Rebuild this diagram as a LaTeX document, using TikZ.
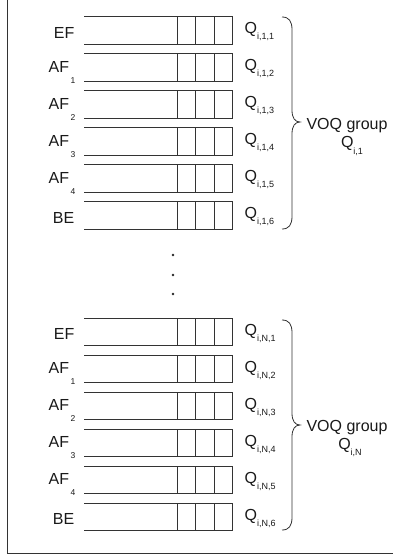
\documentclass[tikz,border=0pt]{standalone}
\usepackage{fontspec}
\setmainfont{Liberation Sans}
\newcommand\lsub[1]{\kern1.5pt\raisebox{-11pt}{\fontsize{8.5}{9}\selectfont #1}}
\newcommand\qsub[1]{\raisebox{-6pt}{\fontsize{9}{10}\selectfont #1}}
\begin{document}
\begin{tikzpicture}[x=1pt,y=-1pt,
  ln/.style={draw=black!80,line width=0.8pt},
  lab/.style={inner sep=0pt,font=\fontsize{16}{18}\selectfont,text=black!90},
  qlab/.style={inner sep=0pt,font=\fontsize{16}{18}\selectfont,text=black!90,anchor=base west},
  dotmark/.style={fill=black!85,draw=none}]
\useasboundingbox (0,0) rectangle (393,556);
\draw[ln] (7,0) -- (7,553) -- (393,553);
% queue rows
\foreach \g/\yo/\gn in {1/16.7/1, 2/318/N}{
  \foreach \r/\lab/\sb in {0/EF/0, 1/{AF\lsub{1}}/1, 2/{AF\lsub{2}}/1, 3/{AF\lsub{3}}/1, 4/{AF\lsub{4}}/1, 5/BE/0}{
    \pgfmathsetmacro\yt{\yo+37*\r}
    \pgfmathsetmacro\yb{\yt+27.5}
    \pgfmathtruncatemacro\qi{\r+1}
    \draw[ln] (84,\yt) -- (232.5,\yt) -- (232.5,\yb) -- (84,\yb);
    \draw[ln] (177,\yt) -- (177,\yb) (195.5,\yt) -- (195.5,\yb) (214,\yt) -- (214,\yb);
    \ifnum\sb=1
      \node[lab,anchor=base east] (L\g-\r) at (75.5,\yt+18.5) {\lab};
    \else
      \node[lab,anchor=base east] (L\g-\r) at (74.5,\yt+21.6) {\lab};
    \fi
    \node[qlab] (Q\g-\r) at (244.5,\yt+17) {Q\qsub{i,\gn,\qi}};
  }
}
% dots
\fill[dotmark] (173,255) circle (1.3) (173,275) circle (1.3) (173,294) circle (1.3);
% braces
\draw[ln] (282,17) .. controls (289,17) and (292,21) .. (292,30) -- (292,110)
  .. controls (292,118) and (295,122) .. (300,122)
  .. controls (295,122) and (292,126) .. (292,134) -- (292,216)
  .. controls (292,225) and (289,229) .. (282,229);
\draw[ln] (282,320) .. controls (289,320) and (292,324) .. (292,333) -- (292,413)
  .. controls (292,421) and (295,425) .. (300,425)
  .. controls (295,425) and (292,429) .. (292,437) -- (292,517)
  .. controls (292,526) and (289,530) .. (282,530);
% group labels
\node[lab,anchor=base] (V1) at (347,130) {VOQ group};
\node[lab,anchor=base] (G1) at (352,148) {Q\qsub{i,1}};
\node[lab,anchor=base] (V2) at (347,431) {VOQ group};
\node[lab,anchor=base] (G2) at (350,449) {Q\qsub{i,N}};
\end{tikzpicture}
\end{document}
